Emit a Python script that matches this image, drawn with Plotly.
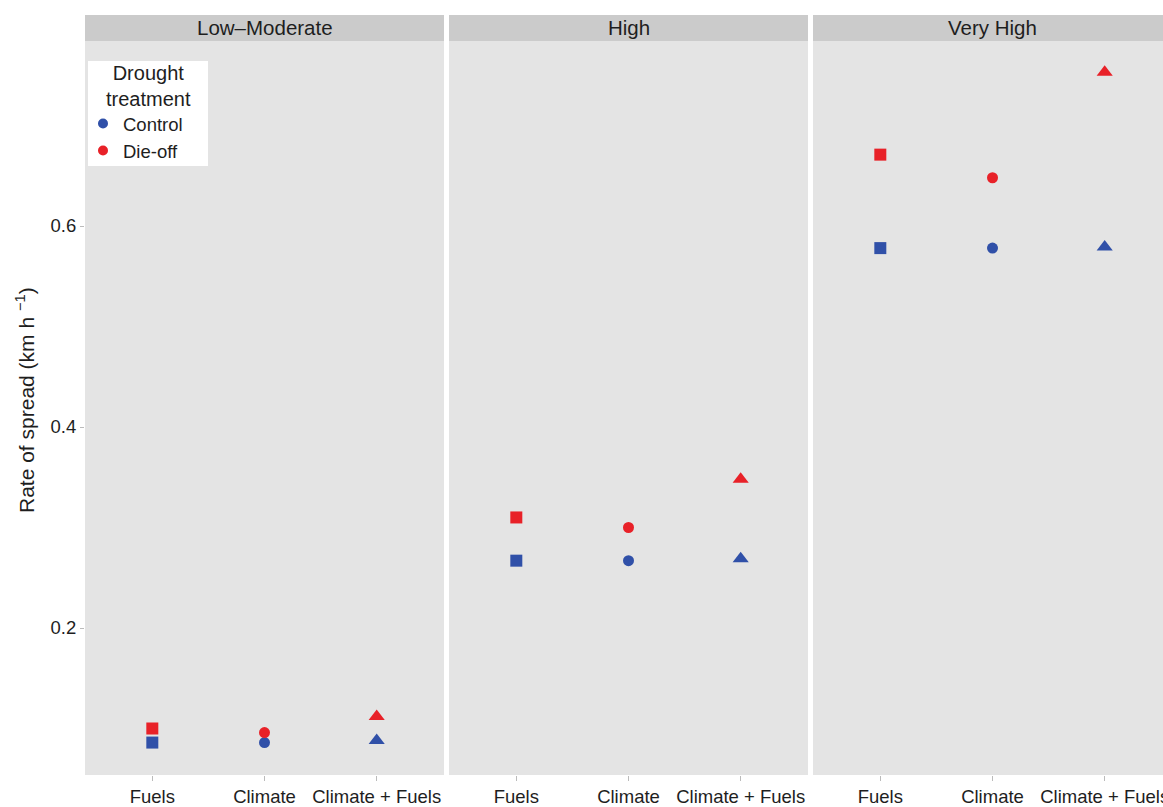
import plotly.graph_objects as go

# Data: rate of spread by fire-weather class, scenario and drought treatment
panels = ["Low\u2013Moderate", "High", "Very High"]
scenarios = ["Fuels", "Climate", "Climate + Fuels"]
symbols = ["square", "circle", "triangle-up"]
control = [
    [0.086, 0.086, 0.088],
    [0.267, 0.267, 0.269],
    [0.578, 0.578, 0.579],
]
dieoff = [
    [0.100, 0.096, 0.112],
    [0.310, 0.300, 0.348],
    [0.671, 0.648, 0.753],
]
y_ticks = [0.2, 0.4, 0.6]

W, H = 1163, 807
BLUE = "#3050A8"
RED = "#E82128"
TXT = "#1E1E1E"
FONT = "Liberation Sans, Arial, sans-serif"

# panel geometry in pixels
px_left = [85, 449, 813]
px_width = 359
top_px, bot_px = 41, 775
strip_top = 15
unit_px = px_width / 3.2

fig = go.Figure()

for i in range(3):
    xa = "x" if i == 0 else f"x{i+1}"
    for vals, col in ((control, BLUE), (dieoff, RED)):
        fig.add_trace(go.Scatter(
            x=scenarios, y=vals[i], mode="markers",
            marker=dict(symbol=symbols, color=col, opacity=1,
                        size=[12, 11, 14], line=dict(width=0)),
            xaxis=xa, yaxis="y", showlegend=False, hoverinfo="skip"))

# legend entries
for name, col in (("Control", BLUE), ("Die-off", RED)):
    fig.add_trace(go.Scatter(x=[None], y=[None], mode="markers", name=name,
                             marker=dict(symbol="circle", color=col, size=10),
                             xaxis="x", yaxis="y"))

ydom = [1 - bot_px / H, 1 - top_px / H]
yrange = [0.2 - (bot_px - 628) / 1005, 0.2 + (628 - top_px) / 1005]

layout = dict(
    width=W, height=H,
    margin=dict(l=0, r=0, t=0, b=0),
    paper_bgcolor="white", plot_bgcolor="#E4E4E4",
    font=dict(family=FONT, color=TXT),
    yaxis=dict(domain=ydom, range=yrange, tickvals=y_ticks,
               ticktext=[f"{v:.1f}" for v in y_ticks],
               showgrid=False, zeroline=False, ticks="outside", ticklen=4,
               tickcolor="#BBBBBB", tickfont=dict(size=18.5, color=TXT),
               automargin=False),
    legend=dict(x=83 / W, y=1 - 105 / H, xanchor="left", yanchor="top",
                bgcolor="rgba(0,0,0,0)", borderwidth=0,
                font=dict(size=18.5, color=TXT),
                itemwidth=30, tracegroupgap=0),
    showlegend=True,
)

shapes = []
annotations = []
for i in range(3):
    key = "xaxis" if i == 0 else f"xaxis{i+1}"
    x0 = px_left[i]
    x1 = min(x0 + px_width, W)
    rng_hi = -0.6 + (x1 - x0) / unit_px
    layout[key] = dict(
        domain=[x0 / W, x1 / W], range=[-0.6, rng_hi],
        type="category", categoryorder="array", categoryarray=scenarios,
        showgrid=False, zeroline=False, ticks="outside", ticklen=5,
        tickcolor="#BBBBBB", tickfont=dict(size=18.5, color=TXT),
        anchor="y", automargin=False)
    # panel background
    shapes.append(dict(type="rect", xref="paper", yref="paper",
                       x0=x0 / W, x1=x1 / W, y0=ydom[0], y1=ydom[1],
                       fillcolor="#E4E4E4", line=dict(width=0), layer="below"))
    # strip
    shapes.append(dict(type="rect", xref="paper", yref="paper",
                       x0=x0 / W, x1=x1 / W, y0=1 - top_px / H,
                       y1=1 - strip_top / H,
                       fillcolor="#CBCBCB", line=dict(width=0)))
    annotations.append(dict(text=panels[i], xref="paper", yref="paper",
                            x=(x0 + px_width / 2) / W,
                            y=1 - (strip_top + top_px - 1) / 2 / H,
                            xanchor="center", yanchor="middle",
                            showarrow=False,
                            font=dict(size=20.5, color=TXT)))

# legend box and title
shapes.append(dict(type="rect", xref="paper", yref="paper",
                   x0=88 / W, x1=208 / W, y0=1 - 166 / H, y1=1 - 61 / H,
                   fillcolor="white", line=dict(width=0), layer="above"))
annotations.append(dict(text="Drought<br>treatment", xref="paper",
                        yref="paper", x=148 / W, y=1 - 86 / H,
                        xanchor="center", yanchor="middle", align="center",
                        showarrow=False, font=dict(size=20, color=TXT)))

annotations.append(dict(
    text="Rate of spread (km h <sup>\u22121</sup>)",
    xref="paper", yref="paper", x=25 / W, y=1 - 400 / H, textangle=-90,
    xanchor="center", yanchor="middle", showarrow=False,
    font=dict(size=21, color=TXT)))

layout["shapes"] = shapes
layout["annotations"] = annotations
fig.update_layout(**layout)

fig.write_html("out.html")
